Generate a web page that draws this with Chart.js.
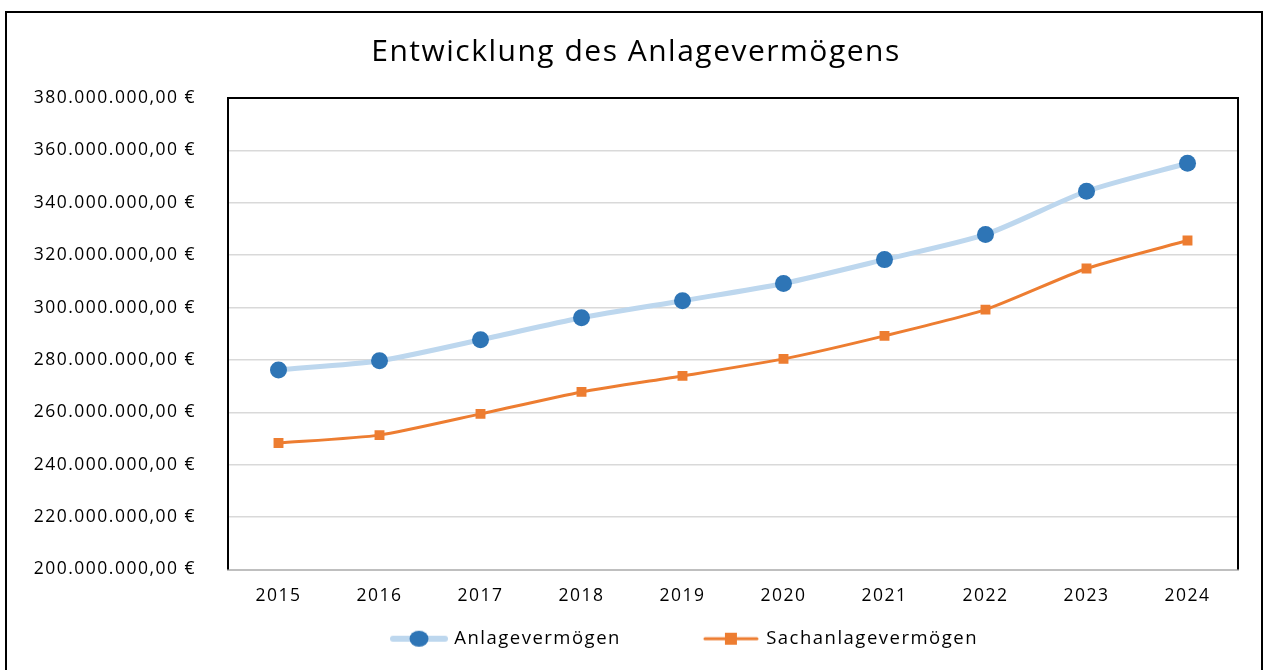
<!DOCTYPE html>
<html>
<head>
<meta charset="utf-8">
<script src="https://cdn.jsdelivr.net/npm/chart.js@4"></script>
<style>
  body { margin: 0; background: #fff; }
  #wrap { width: 1264px; height: 670px; }
</style>
</head>
<body>
<div id="wrap"><canvas id="chart" width="1264" height="670"></canvas></div>
<script>
// data
const years = ["2015", "2016", "2017", "2018", "2019", "2020", "2021", "2022", "2023", "2024"];
const anlage = [276.2, 279.7, 287.7, 296.1, 302.6, 309.2, 318.3, 327.9, 344.4, 355.1].map(v => v * 1e6);
const sachanlage = [248.3, 251.3, 259.4, 267.8, 273.9, 280.4, 289.2, 299.2, 314.9, 325.6].map(v => v * 1e6);
const yMin = 200000000;
const yMax = 380000000;
const yStep = 20000000;

const FONT = "'Open Sans', Lato, sans-serif";
const ICON_W = 126;

// legend marker images (line + marker); the image is 10px wider than the box
// so the line can reach close to the label text
function legendIcon(lineColor, lineWidth, markerColor, square) {
    const cw = ICON_W + 10;
    const c = document.createElement("canvas");
    c.width = cw;
    c.height = 20;
    const g = c.getContext("2d");
    g.strokeStyle = lineColor;
    g.lineWidth = lineWidth;
    g.lineCap = "round";
    g.beginPath();
    g.moveTo(cw - 57, 10);
    g.lineTo(cw - 5, 10);
    g.stroke();
    g.fillStyle = markerColor;
    const cx = cw - 31;
    if (square) {
        g.fillRect(cx - 6, 4, 12, 12);
    } else {
        g.beginPath();
        g.ellipse(cx, 10, 9.5, 8, 0, 0, Math.PI * 2);
        g.fill();
    }
    return c;
}

const euro = v => v.toLocaleString("de-DE", { minimumFractionDigits: 2, maximumFractionDigits: 2 }) + " €";

// wider text like the reference
const spacingPlugin = {
    id: "spacing",
    beforeUpdate(chart) { chart.ctx.letterSpacing = "1.5px"; },
    beforeDraw(chart) { chart.ctx.letterSpacing = "1.5px"; },
    afterLayout(chart) {
        chart.titleBlock.left = 8;
        chart.titleBlock.right = 1264;
        chart.legend.left = 59;
    }
};

const framePlugin = {
    id: "frame",
    afterDraw(chart) {
        const { ctx, chartArea: a } = chart;
        ctx.save();
        ctx.strokeStyle = "#000";
        ctx.lineWidth = 2;
        ctx.strokeRect(6, 12, 1256, 670);
        // plot area border
        ctx.beginPath();
        ctx.moveTo(a.left, a.bottom);
        ctx.lineTo(a.left, a.top);
        ctx.lineTo(a.right, a.top);
        ctx.lineTo(a.right, a.bottom);
        ctx.stroke();
        ctx.restore();
    }
};

new Chart(document.getElementById("chart"), {
    type: "line",
    data: {
        labels: years,
        datasets: [
            {
                label: "Anlagevermögen",
                data: anlage,
                borderColor: "#BDD7EE",
                borderWidth: 5,
                backgroundColor: "#2E75B6",
                pointBackgroundColor: "#2E75B6",
                pointBorderWidth: 0,
                pointRadius: 8.5,
                pointStyle: "circle",
                tension: 0.25,
                fill: false
            },
            {
                label: "Sachanlagevermögen",
                data: sachanlage,
                borderColor: "#ED7D31",
                borderWidth: 3,
                backgroundColor: "#ED7D31",
                pointBackgroundColor: "#ED7D31",
                pointBorderWidth: 0,
                pointRadius: 7,
                pointStyle: "rect",
                tension: 0.2,
                fill: false
            }
        ]
    },
    options: {
        responsive: false,
        animation: false,
        layout: { padding: { left: 0, right: 26, top: 0, bottom: 12 } },
        plugins: {
            title: {
                display: true,
                text: "Entwicklung des Anlagevermögens",
                color: "#000",
                font: { family: FONT, size: 30, weight: "normal" },
                padding: { top: 34, bottom: 28 }
            },
            legend: {
                position: "bottom",
                labels: {
                    color: "#000",
                    font: { family: FONT, size: 18.5 },
                    usePointStyle: true,
                    pointStyleWidth: ICON_W,
                    padding: 10,
                    generateLabels: () => [
                        { text: "Anlagevermögen", pointStyle: legendIcon("#BDD7EE", 6, "#2E75B6", false), fontColor: "#000", datasetIndex: 0 },
                        { text: "Sachanlagevermögen", pointStyle: legendIcon("#ED7D31", 3, "#ED7D31", true), fontColor: "#000", datasetIndex: 1 }
                    ]
                }
            },
            tooltip: { enabled: false }
        },
        scales: {
            x: {
                offset: true,
                grid: { display: false, drawTicks: false },
                border: { display: true, color: "#BFBFBF", width: 2 },
                ticks: { color: "#000", font: { family: FONT, size: 17.5 }, padding: 16 },
                afterFit: s => { s.height = 50; }
            },
            y: {
                min: yMin,
                max: yMax,
                grid: { color: "#D9D9D9", lineWidth: 1.5, drawTicks: false },
                border: { display: false },
                ticks: {
                    stepSize: yStep,
                    color: "#000",
                    font: { family: FONT, size: 17.5 },
                    padding: 32,
                    callback: v => euro(v)
                },
                afterFit: s => { s.width = 228; }
            }
        }
    },
    plugins: [spacingPlugin, framePlugin]
});
</script>
</body>
</html>
